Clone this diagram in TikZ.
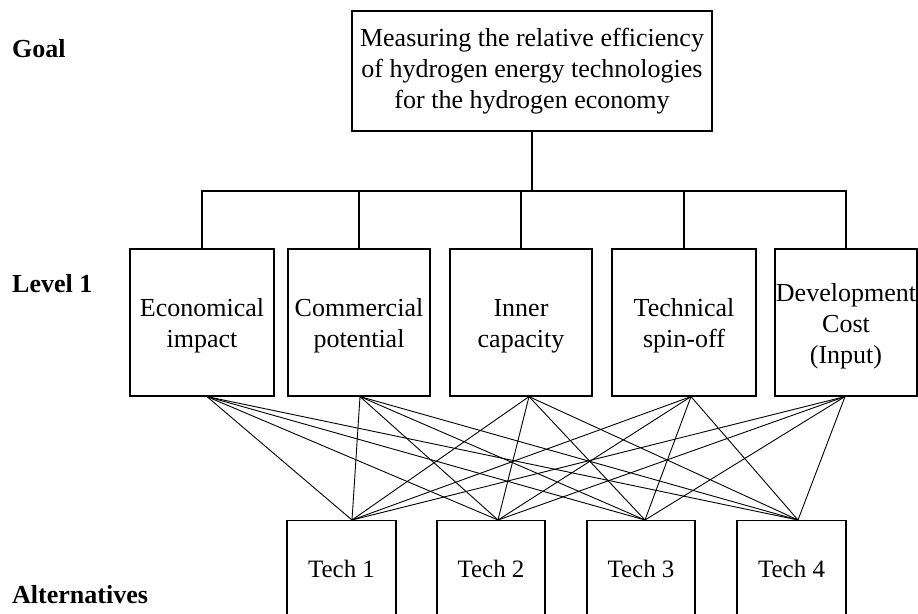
\documentclass[tikz,border=0pt]{standalone}
\usepackage{fontspec}
\setmainfont{Liberation Serif}
\newcommand{\upstrut}{\rule{0pt}{25pt}}
\begin{document}
\begin{tikzpicture}[x=1pt,y=-1pt,
  box/.style={draw, line width=1.2pt, align=center, inner sep=0pt, font=\fontsize{26}{31}\selectfont},
  goalbox/.style={box, minimum width=360pt, minimum height=120pt},
  crit/.style={box, minimum width=143pt, minimum height=147pt},
  alt/.style={box, minimum width=109pt, text height=57pt, text depth=63pt, anchor=north, font=\fontsize{25}{30}\selectfont},
  lvl/.style={font=\fontsize{26}{31}\selectfont\bfseries, anchor=base west, inner sep=0pt},
  tree/.style={line width=1.2pt},
  link/.style={line width=0.9pt}]
\useasboundingbox (0,0) rectangle (918,613);
\fill[white] (0,0) rectangle (918,613);
\clip (0,0) rectangle (918,613);

% level labels
\node[lvl] (lgoal) at (12,57) {Goal};
\node[lvl] (llev) at (12,292) {Level 1};
\node[lvl] (lalt) at (12,603) {Alternatives};

% goal
\node[goalbox] (goal) at (532,71) {\strut Measuring the relative efficiency\\of hydrogen energy technologies\\for the hydrogen economy\strut};

% criteria
\node[crit, minimum width=144pt] (c1) at (202,322.5) {\upstrut Economical\\impact};
\node[crit, minimum width=142pt] (c2) at (359,322.5) {\upstrut Commercial\\potential};
\node[crit, minimum width=142pt] (c3) at (521,322.5) {\upstrut Inner\\capacity};
\node[crit, minimum width=144pt] (c4) at (684,322.5) {\upstrut Technical\\spin-off};
\node[crit, minimum width=142pt] (c5) at (846,322.5) {\upstrut Development\\Cost\\(Input)};

% alternatives
\node[alt] (t1) at (341.5,520) {Tech 1};
\node[alt, minimum width=108pt] (t2) at (491,520) {Tech 2};
\node[alt, minimum width=108pt] (t3) at (641,520) {Tech 3};
\node[alt] (t4) at (791.5,520) {Tech 4};

% hierarchy tree
\coordinate (bus) at (532,191);
\draw[line width=1.8pt] (goal.south) -- (bus);
\foreach \c in {c1,c2,c3,c4,c5}
  \draw[tree] (\c.north) |- (bus);

% criteria bottom anchors
\coordinate (b1) at ([xshift=5pt]c1.south);
\coordinate (b2) at ([xshift=1pt]c2.south);
\coordinate (b3) at ([xshift=8pt]c3.south);
\coordinate (b4) at ([xshift=7pt]c4.south);
\coordinate (b5) at ([xshift=-1pt]c5.south);
% alternatives top anchors
\coordinate (a1) at ([xshift=10.5pt]t1.north);
\coordinate (a2) at ([xshift=7pt]t2.north);
\coordinate (a3) at ([xshift=4pt]t3.north);
\coordinate (a4) at ([xshift=6.5pt]t4.north);

\foreach \b in {b1,b2,b3,b4,b5}
  \foreach \a in {a1,a2,a3,a4}
    \draw[link] (\b) -- (\a);
\end{tikzpicture}
\end{document}
